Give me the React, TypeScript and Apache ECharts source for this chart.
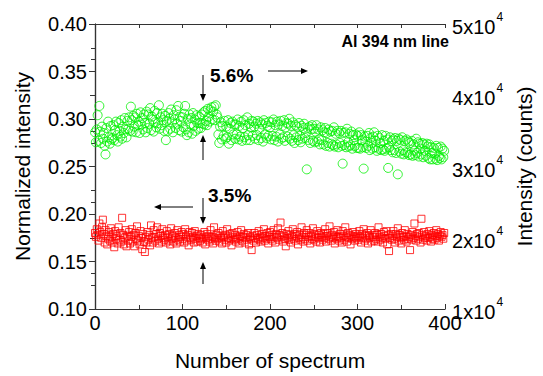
import React, { useEffect, useRef } from "react";
import * as echarts from "echarts";

// Normalized intensity (left axis), red squares
const redValues: number[] = [
  0.180,0.176,0.184,0.178,0.172,0.190,0.181,0.175,0.186,0.194,0.179,0.170,0.183,0.177,0.168,0.174,0.181,0.172,0.185,0.176,
  0.170,0.179,0.165,0.182,0.174,0.177,0.169,0.186,0.173,0.180,0.171,0.196,0.178,0.168,0.175,0.183,0.166,0.177,0.172,0.181,
  0.169,0.176,0.184,0.171,0.178,0.166,0.180,0.174,0.187,0.172,0.177,0.168,0.182,0.175,0.163,0.179,0.171,0.160,0.176,0.170,
  0.181,0.173,0.178,0.167,0.188,0.175,0.170,0.183,0.176,0.172,0.179,0.186,0.174,0.169,0.180,0.177,0.171,0.184,0.175,0.173,
  0.178,0.170,0.182,0.176,0.172,0.179,0.168,0.185,0.174,0.177,0.171,0.180,0.175,0.169,0.183,0.173,0.178,0.171,0.176,0.181,
  0.174,0.179,0.170,0.184,0.176,0.172,0.178,0.167,0.181,0.175,0.173,0.180,0.176,0.170,0.182,0.174,0.177,0.171,0.179,0.175,
  0.172,0.178,0.174,0.170,0.176,0.181,0.168,0.175,0.179,0.173,0.177,0.171,0.183,0.174,0.176,0.169,0.186,0.175,0.172,0.178,
  0.174,0.180,0.171,0.177,0.175,0.169,0.182,0.176,0.173,0.178,0.170,0.184,0.175,0.172,0.179,0.174,0.167,0.180,0.176,0.173,
  0.178,0.171,0.175,0.181,0.174,0.169,0.177,0.183,0.172,0.176,0.179,0.170,0.175,0.178,0.173,0.180,0.168,0.176,0.174,0.162,
  0.177,0.172,0.180,0.175,0.170,0.178,0.174,0.182,0.173,0.176,0.171,0.179,0.175,0.184,0.172,0.177,0.174,0.180,0.169,0.176,
  0.181,0.174,0.178,0.172,0.183,0.176,0.170,0.179,0.175,0.185,0.173,0.178,0.191,0.176,0.180,0.171,0.177,0.174,0.166,0.179,
  0.175,0.182,0.173,0.178,0.170,0.176,0.184,0.174,0.179,0.172,0.177,0.181,0.168,0.175,0.178,0.173,0.186,0.176,0.171,0.180,
  0.174,0.178,0.183,0.172,0.176,0.180,0.169,0.177,0.174,0.185,0.173,0.179,0.176,0.171,0.182,0.175,0.178,0.170,0.180,0.176,
  0.173,0.179,0.175,0.184,0.171,0.177,0.180,0.174,0.187,0.176,0.172,0.178,0.175,0.181,0.169,0.177,0.174,0.183,0.176,0.172,
  0.179,0.175,0.170,0.182,0.177,0.173,0.186,0.176,0.171,0.180,0.175,0.178,0.168,0.177,0.174,0.181,0.176,0.172,0.179,0.175,
  0.177,0.173,0.182,0.176,0.170,0.179,0.175,0.184,0.172,0.178,0.174,0.180,0.169,0.177,0.175,0.183,0.171,0.178,0.176,0.172,
  0.180,0.174,0.178,0.171,0.186,0.176,0.173,0.179,0.175,0.170,0.181,0.177,0.174,0.182,0.168,0.178,0.161,0.175,0.179,0.173,
  0.177,0.182,0.174,0.170,0.179,0.176,0.185,0.172,0.178,0.175,0.169,0.180,0.176,0.173,0.183,0.177,0.171,0.179,0.174,0.176,
  0.162,0.178,0.173,0.181,0.175,0.190,0.177,0.172,0.179,0.174,0.180,0.176,0.170,0.195,0.178,0.173,0.181,0.175,0.177,0.172,
  0.179,0.175,0.182,0.176,0.171,0.178,0.174,0.180,0.173,0.177,0.183,0.175,0.179,0.172,0.177,0.181,0.176,0.178,0.174,0.180,
];

// Intensity in counts (right axis), green circles
const greenCounts: number[] = [
  34800,33400,35200,37200,33600,38500,34900,33300,35600,33900,34700,32900,31700,35400,33500,36300,34100,33200,35700,33800,
  34000,35800,33700,35100,36300,34400,33500,36100,35000,34200,36500,33900,35600,34700,36800,35200,34100,36400,35300,36900,
  35000,38400,36500,34900,37100,35600,36900,34800,37400,35800,36300,34700,37600,35900,36800,35200,37300,36100,34800,37700,
  35400,37300,36000,38200,35100,37000,36600,34900,37800,36200,35500,37500,36100,38600,35300,36900,35800,37400,36500,35000,
  37100,33700,36400,35000,37500,36700,35300,38000,36200,34800,37200,36600,35400,37900,36000,38500,35100,37000,36400,34900,
  36900,35500,37400,38500,35200,34400,36700,34800,37300,35900,36800,34600,37500,35700,36600,35000,37200,36100,35300,37000,
  36100,35400,37300,36000,37600,35900,37800,36400,35800,38100,37000,36300,37900,38300,36600,37700,38400,36500,38600,37300,
  36900,34500,33300,35600,36200,33800,35700,34300,36400,33900,35600,34100,36500,33200,35300,36100,33700,36300,34500,35900,
  33900,35900,34500,36600,33800,35700,34200,36300,33600,35400,36500,34100,35800,33700,36900,34400,36000,33700,35500,36400,
  34300,36300,35600,33900,36000,34400,36400,33700,35300,36200,34000,35900,33500,36500,34500,36100,34000,35700,34300,36300,
  35500,33800,36200,34300,36600,33700,35800,34200,36300,33500,35900,34500,36400,33900,35700,34100,36500,33600,35500,36100,
  34200,36000,36700,33900,35700,33600,36200,34400,33300,35800,34100,35600,33700,36100,34300,33400,35700,33900,35400,36000,
  34000,34700,29600,35400,33700,35600,33300,35200,35800,33600,35300,33400,34900,35800,33500,35200,33800,33100,35500,33700,
  35100,33100,34800,35400,32900,34700,33300,35200,32800,34900,33200,35000,33000,35500,32800,34600,33100,35000,32700,34700,
  33300,35000,32900,30400,34700,33000,34800,32700,35300,33400,32800,34600,33000,34900,32500,34400,33700,32900,34500,32600,
  34300,32600,34800,32500,34400,33700,32700,29700,34200,33500,32600,34300,32900,34700,32300,34000,33300,32500,34200,34800,
  32700,33600,32200,34300,32500,34000,33300,32300,34400,32400,33600,32200,34300,32500,33800,29800,32700,34100,32300,33600,
  32000,33800,32300,34000,31900,33600,28900,33900,32100,33700,31800,34100,32300,31700,33600,32000,33800,31900,33500,31600,
  33300,31700,33600,31500,33100,32200,31600,33900,31900,33400,31400,33200,32500,31700,33300,31300,33100,32200,31500,33200,
  32800,31200,33100,31000,32700,31900,31000,32600,31800,31100,32900,30900,32600,31500,31200,32800,31000,32500,31300,32200,
];

const xTicks = [0, 100, 200, 300, 400];
const leftTicks = [0.1, 0.15, 0.2, 0.25, 0.3, 0.35, 0.4];
const rightTicks = [10000, 20000, 30000, 40000, 50000];

const FONT = 'Arial, "Liberation Sans", sans-serif';

export default function App() {
  const ref = useRef<HTMLDivElement>(null);
  useEffect(() => {
    if (!ref.current) return;
    const chart = echarts.init(ref.current, undefined, { renderer: "svg" });
    const redData = redValues.map((v, i) => [i, v]);
    const greenData = greenCounts.map((v, i) => [i, v]);
    const arrowHead = (x: number, y: number, dir: string) => {
      const L = 7, W = 3;
      let pts: number[][];
      if (dir === "right") pts = [[x, y], [x - L, y - W], [x - L, y + W]];
      else if (dir === "left") pts = [[x, y], [x + L, y - W], [x + L, y + W]];
      else if (dir === "down") pts = [[x, y], [x - W, y - L], [x + W, y - L]];
      else pts = [[x, y], [x - W, y + L], [x + W, y + L]];
      return { type: "polygon", shape: { points: pts }, style: { fill: "#000" } };
    };
    const line = (x1: number, y1: number, x2: number, y2: number) => ({
      type: "line",
      shape: { x1, y1, x2, y2 },
      style: { stroke: "#000", lineWidth: 1 },
    });
    const axisLine = { show: true, lineStyle: { color: "#333", width: 1.2 } };
    chart.setOption({
      animation: false,
      backgroundColor: "#fff",
      grid: { left: 95, right: 87, top: 24, bottom: 62 },
      xAxis: [
        {
          type: "value",
          min: xTicks[0],
          max: xTicks[xTicks.length - 1],
          interval: 100,
          position: "bottom",
          name: "Number of spectrum",
          nameLocation: "middle",
          nameGap: 41,
          nameTextStyle: { fontFamily: FONT, fontSize: 21, color: "#000" },
          axisLine,
          axisTick: { show: true, inside: true, length: 5, lineStyle: { color: "#333" } },
          minorTick: { show: true, splitNumber: 2, length: 4, lineStyle: { color: "#333" } },
          axisLabel: { fontFamily: FONT, fontSize: 20, color: "#000", margin: 4 },
          splitLine: { show: false },
        },
        {
          type: "value",
          min: 0,
          max: 400,
          interval: 50,
          position: "top",
          axisLine,
          axisTick: { show: true, inside: true, length: 4, lineStyle: { color: "#333" } },
          axisLabel: { show: false },
          splitLine: { show: false },
        },
      ],
      yAxis: [
        {
          type: "value",
          min: leftTicks[0],
          max: leftTicks[leftTicks.length - 1],
          interval: 0.05,
          position: "left",
          name: "Normalized intensity",
          nameLocation: "middle",
          nameGap: 62,
          nameTextStyle: { fontFamily: FONT, fontSize: 21, color: "#000" },
          axisLine,
          axisTick: { show: true, inside: false, length: 6, lineStyle: { color: "#333" } },
          minorTick: { show: true, splitNumber: 2, length: 4, lineStyle: { color: "#333" } },
          axisLabel: {
            fontFamily: FONT,
            fontSize: 20,
            color: "#000",
            margin: 8,
            formatter: (v: number) => v.toFixed(2),
          },
          splitLine: { show: false },
        },
        {
          type: "value",
          min: rightTicks[0],
          max: rightTicks[rightTicks.length - 1],
          interval: 10000,
          position: "right",
          name: "Intensity (counts)",
          nameLocation: "middle",
          nameGap: 62,
          nameRotate: 90,
          nameTextStyle: { fontFamily: FONT, fontSize: 21, color: "#000" },
          axisLine,
          axisTick: { show: true, inside: true, length: 5, lineStyle: { color: "#333" } },
          minorTick: { show: true, splitNumber: 2, length: 4, lineStyle: { color: "#333" } },
          axisLabel: {
            fontFamily: FONT,
            color: "#000",
            margin: 7,
            formatter: (v: number) => `{a|${Math.round(v / 10000)}x10}{s|4}`,
            rich: {
              a: { fontFamily: FONT, fontSize: 20, color: "#000", lineHeight: 26, verticalAlign: "bottom" },
              s: { fontFamily: FONT, fontSize: 12, color: "#000", lineHeight: 26, verticalAlign: "top", padding: [0, 0, 0, 1] },
            },
          },
          splitLine: { show: false },
        },
      ],
      series: [
        {
          name: "Normalized",
          type: "scatter",
          xAxisIndex: 0,
          yAxisIndex: 0,
          data: redData,
          symbol: "rect",
          symbolSize: 7,
          itemStyle: { color: "rgba(0,0,0,0)", borderColor: "#ff0000", borderWidth: 1 },
        },
        {
          name: "Counts",
          type: "scatter",
          xAxisIndex: 0,
          yAxisIndex: 1,
          data: greenData,
          symbol: "circle",
          symbolSize: 9,
          itemStyle: { color: "rgba(0,0,0,0)", borderColor: "#00f000", borderWidth: 1 },
        },
      ],
      graphic: [
        {
          type: "text",
          right: 543 - 449,
          top: 33,
          style: { text: "Al 394 nm line", font: `bold 16px ${FONT}`, fill: "#000" },
        },
        {
          type: "text",
          x: 210,
          y: 75,
          style: { text: "5.6%", font: `bold 19px ${FONT}`, fill: "#000", verticalAlign: "middle" },
        },
        {
          type: "text",
          x: 208,
          y: 195,
          style: { text: "3.5%", font: `bold 19px ${FONT}`, fill: "#000", verticalAlign: "middle" },
        },
        line(268, 71, 302, 71),
        arrowHead(308, 71, "right"),
        line(203, 75, 203, 95),
        arrowHead(203, 101, "down"),
        line(203, 160, 203, 141),
        arrowHead(203, 135, "up"),
        line(193, 207, 160, 207),
        arrowHead(154, 207, "left"),
        line(203, 198, 203, 218),
        arrowHead(203, 224, "down"),
        line(203, 284, 203, 268),
        arrowHead(203, 262, "up"),
      ],
    });
    return () => chart.dispose();
  }, []);
  return (
    <div
      ref={ref}
      style={{ position: "fixed", left: 0, top: 0, width: 543, height: 376, background: "#fff" }}
    />
  );
}
